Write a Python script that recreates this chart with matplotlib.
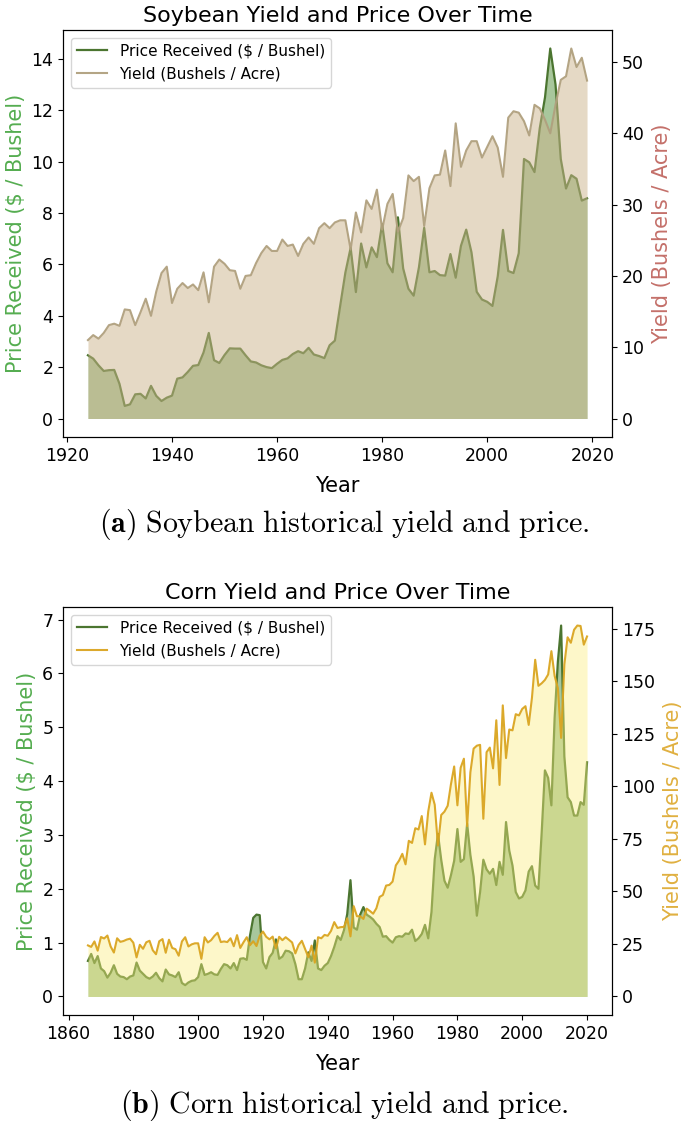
import matplotlib
matplotlib.use("Agg")
import matplotlib.pyplot as plt

plt.rcParams['font.family'] = ['DejaVu Sans']
plt.rcParams['mathtext.fontset'] = 'cm'

# ---------------- Soybean data (1924-2019) ----------------
soy_start_year = 1924
soy_price = [2.46, 2.33, 2.07, 1.85, 1.88, 1.89, 1.35, 0.49, 0.55, 0.94,
             0.96, 0.78, 1.27, 0.88, 0.68, 0.81, 0.89, 1.55, 1.60, 1.81,
             2.05, 2.08, 2.57, 3.33, 2.27, 2.16, 2.47, 2.73, 2.72, 2.72,
             2.46, 2.22, 2.18, 2.07, 2.00, 1.96, 2.13, 2.28, 2.34, 2.51,
             2.62, 2.54, 2.75, 2.49, 2.43, 2.35, 2.85, 3.03, 4.37, 5.68,
             6.64, 4.92, 6.81, 5.88, 6.66, 6.28, 7.57, 6.04, 5.69, 7.83,
             5.84, 5.05, 4.78, 5.88, 7.42, 5.69, 5.74, 5.58, 5.56, 6.40,
             5.48, 6.72, 7.35, 6.47, 4.93, 4.63, 4.54, 4.38, 5.53, 7.34,
             5.74, 5.66, 6.43, 10.10, 9.97, 9.59, 11.30, 12.50, 14.40, 13.00,
             10.10, 8.95, 9.47, 9.33, 8.48, 8.57]
soy_yield = [11.0, 11.7, 11.2, 12.0, 13.1, 13.3, 13.0, 15.3, 15.2, 13.1,
             14.9, 16.8, 14.4, 17.8, 20.4, 21.3, 16.2, 18.2, 19.0, 18.3,
             18.8, 18.0, 20.5, 16.3, 21.3, 22.3, 21.7, 20.8, 20.7, 18.2,
             20.0, 20.1, 21.8, 23.2, 24.2, 23.5, 23.5, 25.1, 24.2, 24.4,
             22.8, 24.5, 25.4, 24.5, 26.7, 27.4, 26.7, 27.5, 27.8, 27.8,
             23.7, 28.9, 26.1, 30.6, 29.4, 32.1, 26.5, 30.1, 31.5, 26.2,
             28.1, 34.1, 33.3, 33.9, 27.0, 32.3, 34.1, 34.2, 37.6, 32.6,
             41.4, 35.3, 37.6, 38.9, 38.9, 36.6, 38.1, 39.6, 38.0, 33.9,
             42.2, 43.1, 42.9, 41.7, 39.7, 44.0, 43.5, 41.9, 40.0, 44.0,
             47.5, 48.0, 51.9, 49.3, 50.6, 47.4]
soy_years = list(range(soy_start_year, soy_start_year + len(soy_price)))

# ---------------- Corn data (1866-2020) ----------------
corn_start_year = 1866
corn_price = [0.66, 0.79, 0.62, 0.75, 0.52, 0.47, 0.35, 0.44, 0.58, 0.42,
              0.37, 0.36, 0.32, 0.37, 0.39, 0.63, 0.48, 0.42, 0.36, 0.33,
              0.37, 0.44, 0.34, 0.28, 0.50, 0.41, 0.39, 0.36, 0.45, 0.25,
              0.21, 0.26, 0.29, 0.30, 0.36, 0.60, 0.40, 0.42, 0.45, 0.41,
              0.40, 0.51, 0.60, 0.58, 0.52, 0.62, 0.49, 0.70, 0.71, 0.68,
              1.13, 1.46, 1.52, 1.51, 0.64, 0.52, 0.73, 0.81, 1.06, 0.70,
              0.74, 0.85, 0.84, 0.80, 0.60, 0.32, 0.32, 0.52, 0.82, 0.66,
              1.04, 0.52, 0.49, 0.57, 0.62,
              0.75, 0.92, 1.12, 1.05, 1.23, 1.53, 2.16, 1.28, 1.24, 1.52,
              1.66, 1.52, 1.48, 1.43, 1.35, 1.29, 1.11, 1.12, 1.05, 1.00,
              1.10, 1.12, 1.11, 1.17, 1.16, 1.24, 1.03, 1.08, 1.16, 1.33,
              1.08, 1.57, 2.55, 3.02, 2.54, 2.15, 2.02, 2.25, 2.52, 3.11,
              2.50, 2.55, 3.21, 2.63, 2.23, 1.50, 1.94, 2.54, 2.36, 2.28,
              2.37, 2.07, 2.50, 2.26, 3.24, 2.71, 2.43, 1.94, 1.82, 1.85,
              1.97, 2.32, 2.42, 2.06, 2.00, 3.04, 4.20, 4.06, 3.55, 5.18,
              6.22, 6.89, 4.46, 3.70, 3.61, 3.36, 3.36, 3.61, 3.56, 4.35]
corn_yield = [24.3, 23.6, 26.2, 21.8, 28.3, 27.6, 29.0, 23.8, 20.9, 27.7,
              26.0, 26.4, 27.1, 27.5, 25.6, 18.6, 24.6, 22.7, 25.8, 26.5,
              22.0, 20.1, 26.3, 27.3, 20.8, 27.0, 23.1, 22.5, 19.4, 26.2,
              28.2, 23.8, 24.8, 25.3, 25.3, 17.9, 28.2, 25.7, 26.8, 28.8,
              30.3, 25.9, 26.2, 25.9, 27.7, 23.9, 29.2, 23.1, 25.8, 28.2,
              24.4, 26.3, 24.0, 28.9, 30.9, 28.4, 27.2, 28.5, 22.9, 28.4,
              26.8, 28.2, 27.0, 25.7, 20.5, 24.5, 26.5, 22.6, 18.7, 24.2,
              16.1, 28.2, 27.7, 29.3, 28.9,
              31.2, 35.4, 32.6, 33.0, 33.1, 37.2, 28.6, 43.0, 38.2, 38.2,
              36.9, 41.8, 40.7, 39.4, 42.0, 47.4, 48.3, 52.8, 53.1, 54.7,
              62.4, 64.7, 67.9, 62.9, 74.1, 73.1, 80.1, 79.5, 85.9, 72.4,
              88.1, 97.0, 91.3, 71.9, 86.4, 88.0, 90.8, 101.0, 109.5, 91.0,
              108.9, 113.2, 81.1, 106.7, 118.0, 119.4, 119.8, 84.6, 116.3, 118.5,
              108.6, 131.5, 100.7, 138.6, 113.5, 127.1, 126.7, 134.4, 133.8, 136.9,
              138.2, 129.3, 142.2, 160.3, 147.9, 149.1, 150.7, 153.3, 164.4, 152.6,
              146.8, 123.1, 158.1, 171.0, 168.4, 174.6, 176.6, 176.4, 167.5, 171.4]
corn_years = list(range(corn_start_year, corn_start_year + len(corn_price)))

price_label = "Price Received ($ / Bushel)"
yield_label = "Yield (Bushels / Acre)"

# ---------------- styles ----------------
W, H = 685, 1121
price_line = '#4b7530'
price_fill = '#52903a'
soy_yield_line = '#b0a07e'
soy_yield_fill = '#cdb48c'
corn_yield_line = '#daa520'
corn_yield_fill = '#fcee80'
green_label = '#55ad50'

fig = plt.figure(figsize=(W / 100, H / 100), dpi=100)


def panel(box, years, price, yld, yline, yfill, yfill_alpha, title,
          ylab_color, caption):
    l, t, r, b = box
    ax = fig.add_axes([l / W, 1 - b / H, (r - l) / W, (b - t) / H])
    ax.plot(years, price, color=price_line, lw=1.6, label=price_label)
    ax.fill_between(years, 0, price, color=price_fill, alpha=0.5, lw=0)
    ax2 = ax.twinx()
    ax2.plot(years, yld, color=yline, lw=1.5, alpha=0.95, label=yield_label)
    ax2.fill_between(years, 0, yld, color=yfill, alpha=yfill_alpha, lw=0)
    ax.set_title(title, fontsize=16)
    ax.set_xlabel('Year', fontsize=15, labelpad=8)
    ax.set_ylabel(price_label, fontsize=15, color=green_label)
    ax2.set_ylabel(yield_label, fontsize=15, color=ylab_color, labelpad=6)
    ax.tick_params(labelsize=12.5)
    ax2.tick_params(labelsize=12.5)
    h1, l1 = ax.get_legend_handles_labels()
    h2, l2 = ax2.get_legend_handles_labels()
    ax2.legend(h1 + h2, l1 + l2, loc='upper left', fontsize=11)
    fig.text(0.5 * (l + r) / W + 0.01, 1 - caption[1] / H, caption[0],
             ha='center', va='center', fontsize=21.5)
    return ax, ax2


panel((63, 30, 612, 437), soy_years, soy_price, soy_yield,
      soy_yield_line, soy_yield_fill, 0.5,
      'Soybean Yield and Price Over Time', '#c4706a',
      (r'$\mathbf{(a)}\ \mathrm{Soybean\ historical\ yield\ and\ price.}$', 524))

panel((63, 607, 612, 1015), corn_years, corn_price, corn_yield,
      corn_yield_line, corn_yield_fill, 0.42,
      'Corn Yield and Price Over Time', '#e0b040',
      (r'$\mathbf{(b)}\ \mathrm{Corn\ historical\ yield\ and\ price.}$', 1105))

fig.savefig('out.png', dpi=100)
